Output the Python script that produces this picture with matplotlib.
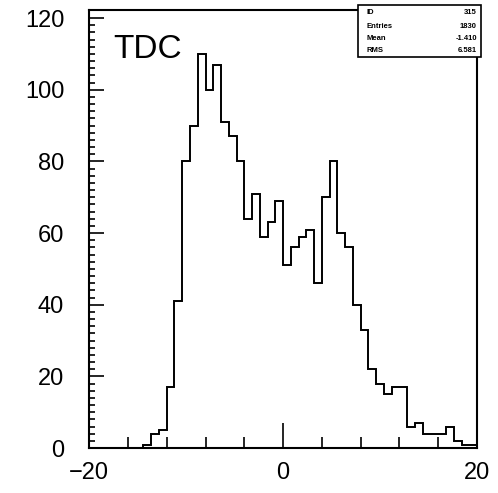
import numpy as np
import matplotlib
matplotlib.use("Agg")
import matplotlib.pyplot as plt
from matplotlib.patches import Rectangle

matplotlib.rcParams['font.family'] = 'Liberation Sans'

# TDC histogram, 50 bins of 0.8 from -20 to 20
bin_edges = np.linspace(-20, 20, 51)
counts = [0, 0, 0, 0, 0, 0, 0, 1, 4, 5,
          17, 41, 80, 90, 110, 100, 107, 91, 87, 80,
          64, 71, 59, 63, 69, 51, 56, 59, 61, 46,
          70, 80, 60, 56, 40, 33, 22, 18, 15, 17,
          17, 6, 7, 4, 4, 4, 6, 2, 1, 1]

stat_names = ["ID", "Entries", "Mean", "RMS"]
stat_values = ["315", "1830", "-1.410", "6.581"]

fig = plt.figure(figsize=(4.98, 4.93), dpi=100)
ax = fig.add_axes([0.179, 0.091, 0.779, 0.889])

ax.stairs(counts, bin_edges, color='black', linewidth=1.4)

ax.set_xlim(-20, 20)
ax.set_ylim(0, 122.3)

ax.set_xticks([-20, 0, 20])
ax.set_xticklabels(["\u221220", "0", "20"])
ax.set_xticks(np.arange(-16, 20, 4), minor=True)
ax.set_yticks(np.arange(0, 121, 20))
ax.set_yticks(np.arange(0, 122, 2), minor=True)

ax.tick_params(axis='both', which='both', direction='in', labelsize=17,
               top=False, right=False, width=1.2, color='black')
ax.tick_params(axis='x', which='major', length=18, pad=10)
ax.tick_params(axis='x', which='minor', length=8)
ax.tick_params(axis='y', which='major', length=11, pad=18)
ax.tick_params(axis='y', which='minor', length=4)

for sp in ax.spines.values():
    sp.set_linewidth(1.5)

ax.text(0.062, 0.945, "TDC", transform=ax.transAxes, fontsize=24,
        va='top', ha='left', fontweight='light')

# statistics box in the upper right corner
fig.patches.append(Rectangle((358 / 498, 1 - 57 / 493), 123 / 498, 52 / 493,
                             transform=fig.transFigure, fill=True,
                             facecolor='white', edgecolor='black',
                             linewidth=1.2, zorder=5))
rows_y = [13, 26, 39, 51]
for name, val, yy in zip(stat_names, stat_values, rows_y):
    fig.text(366 / 498, 1 - yy / 493, name, fontsize=5.5, fontweight='bold',
             va='center', ha='left', zorder=6)
    fig.text(477 / 498, 1 - yy / 493, val, fontsize=5.5, fontweight='bold',
             va='center', ha='right', zorder=6)

fig.savefig("out.png", dpi=100)
